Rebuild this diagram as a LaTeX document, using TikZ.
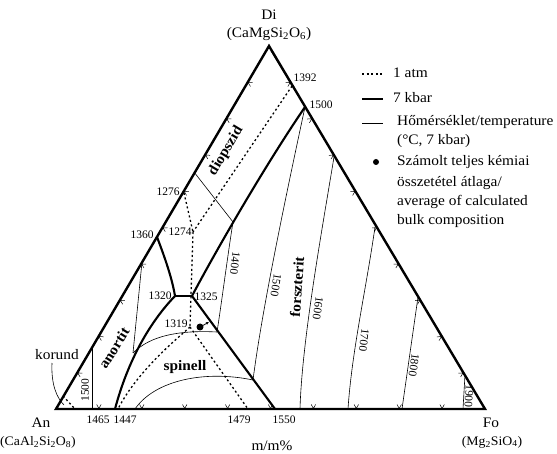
\documentclass[tikz,border=0pt]{standalone}
\usepackage{fontspec}
\setmainfont{Liberation Serif}[FakeStretch=1.06]
\newfontfamily\numfont{Liberation Serif}
\usetikzlibrary{decorations.markings,arrows.meta}
\tikzset{
 edge/.style={line width=2.4pt, line join=miter},
 kbar/.style={line width=2.1pt, line join=round, line cap=round},
 atm/.style={line width=1.3pt, dash pattern=on 2pt off 2.6pt},
 iso/.style={line width=0.6pt},
 tickset/.style={postaction={decorate,decoration={markings,
   mark=between positions 0.1 and 0.95 step 0.1 with {\draw[line width=0.5pt,solid] (-2.2pt,4.5pt) -- (0pt,0.5pt) -- (2.2pt,4.5pt);}}}},
 num/.style={font=\numfont\fontsize{11.5}{13}\selectfont, inner sep=0pt},
 lbl/.style={font=\fontsize{14.5}{17}\selectfont, inner sep=0pt},
 frm/.style={font=\fontsize{13}{15}\selectfont, inner sep=0pt},
 fld/.style={font=\bfseries\fontsize{14.5}{16}\selectfont, inner sep=0pt},
}
\begin{document}
\begin{tikzpicture}[x=1pt,y=-1pt]
\useasboundingbox (0,0) rectangle (557,454);
% vertices
\coordinate (An) at (56,409);
\coordinate (Fo) at (485,409);
\coordinate (Di) at (269,46);
% invariant points
\coordinate (p1392) at (292,86);
\coordinate (p1500) at (305,107);
\coordinate (p1276) at (184,193);
\coordinate (p1360) at (157,237);
\coordinate (p1274) at (193,232);
\coordinate (p1320) at (175,296);
\coordinate (p1325) at (192,296);
\coordinate (p1319) at (190,327);
\coordinate (p1447) at (115,409);
\coordinate (q1447) at (118,409);
\coordinate (p1479) at (248,409);
\coordinate (p1550) at (275,409);
% isotherm points
\coordinate (ia) at (271,51);
\coordinate (ib) at (291,84);
\coordinate (i14a) at (142,262);
\coordinate (i14b) at (133,353);
\coordinate (i14c) at (217,332);
\coordinate (i14d) at (233,222);
\coordinate (i14e) at (194,172);
\coordinate (i15a) at (92,347);
\coordinate (i15b) at (92,409);
\coordinate (i15c) at (135,409);
\coordinate (i15d) at (253,380);
\coordinate (i16a) at (334,157);
\coordinate (i16b) at (300,409);
\coordinate (i17a) at (375,227);
\coordinate (i17b) at (348,409);
\coordinate (i18a) at (418,297);
\coordinate (i18b) at (402,409);
\coordinate (i19a) at (465,375);
\coordinate (i19b) at (463,409);
\coordinate (ka) at (52,363);
\coordinate (kb) at (64,405);
\coordinate (kc) at (63,396);
\coordinate (kd) at (75,409);

% isotherms (thin)
\draw[iso] (ia) -- (ib);
\draw[iso] (i14a) -- (i14b);
\draw[iso] (i14b) .. controls (150,336) and (178,330) .. (i14c);
\draw[iso] (i14c) .. controls (222,300) and (227,260) .. (i14d);
\draw[iso] (i14d) -- (i14e);
\draw[iso] (i15a) -- (i15b);
\draw[iso] (i15c) .. controls (155,380) and (205,370) .. (i15d);
\draw[iso] (i15d) .. controls (262,310) and (285,200) .. (p1500);
\draw[iso] (i16a) .. controls (322,230) and (302,340) .. (i16b);
\draw[iso] (i17a) .. controls (366,290) and (352,350) .. (i17b);
\draw[iso] (i18a) -- (i18b);
\draw[iso] (i19a) -- (i19b);
\draw[iso] (ka) .. controls (51,385) and (57,398) .. (kb);

% 1 atm boundaries (dotted)
\draw[atm] (p1392) -- (p1274);
\draw[atm] (p1276) -- (p1274);
\draw[atm] (p1274) -- (p1319);
\draw[atm] (p1319) -- (p1479);
\draw[atm] (p1319) .. controls (178,338) and (138,370) .. (q1447);
\draw[atm] (kc) -- (kd);

% 7 kbar boundaries (thick)
\draw[kbar] (p1360) .. controls (165,258) and (172,278) .. (p1320);
\draw[kbar] (p1320) -- (p1325);
\draw[kbar] (p1320) .. controls (150,322) and (128,360) .. (p1447);
\draw[kbar] (p1325) .. controls (212,258) and (262,170) .. (p1500);
\draw[kbar] (p1325) -- (p1550);

% triangle
\draw[edge] (An) -- (Fo) -- (Di) -- cycle;
\path[tickset] (An) -- (Fo);
\path[tickset] (Fo) -- (Di);
\path[tickset] (Di) -- (An);

% bulk composition
\fill (200,327) circle (3.5pt) coordinate (bulk);
\coordinate (bulkend) at (209,322);
\draw[line width=0.8pt,-{Latex[length=3pt,width=3pt]}] (bulk) ++(2,-1) -- (bulkend);

% corner labels
\node[lbl] (diname) at (269,15) {Di};
\node[lbl] (diform) at (269,34) {(CaMgSi\textsubscript{2}O\textsubscript{6})};
\node[lbl] (anname) at (41,423) {An};
\node[frm] (anform) at (38,442) {(CaAl\textsubscript{2}Si\textsubscript{2}O\textsubscript{8})};
\node[lbl] (foname) at (491,423) {Fo};
\node[frm] (foform) at (492,442) {(Mg\textsubscript{2}SiO\textsubscript{4})};
\node[lbl] (unit) at (272,446) {m/m\%};
\node[lbl] (korund) at (57,355) {korund};

% field labels
\node[fld,rotate=59] (fdi) at (226,151) {diopszid};
\node[fld,rotate=58] (fan) at (114,348) {anortit};
\node[fld,rotate=86] (ffo) at (297,287) {forszterit};
\node[fld] (fsp) at (185,367) {spinell};

% invariant point labels
\node[num] (l1392) at (305,78) {1392};
\node[num] (l1500) at (321,105) {1500};
\node[num] (l1276) at (168,192) {1276};
\node[num] (l1360) at (142,235) {1360};
\node[num] (l1274) at (180,232) {1274};
\node[num] (l1320) at (160,296) {1320};
\node[num] (l1325) at (206,297) {1325};
\node[num] (l1319) at (176,324) {1319};
\node[num] (l1465) at (98,420) {1465};
\node[num] (l1447) at (125,420) {1447};
\node[num] (l1479) at (239,420) {1479};
\node[num] (l1550) at (284,420) {1550};

% isotherm labels
\node[num,rotate=90] (t1500a) at (85,390) {1500};
\node[num,rotate=-97] (t1400) at (235,263) {1400};
\node[num,rotate=-99] (t1500) at (276,285) {1500};
\node[num,rotate=-98] (t1600) at (318,308) {1600};
\node[num,rotate=-97] (t1700) at (364,340) {1700};
\node[num,rotate=-98] (t1800) at (414,365) {1800};
\node[num,rotate=-93] (t1900) at (469,396) {1900};

% legend
\coordinate (la1) at (362,74); \coordinate (lb1) at (383,74);
\coordinate (la2) at (362,99); \coordinate (lb2) at (383,99);
\coordinate (la3) at (362,123); \coordinate (lb3) at (383,123);
\draw[atm] (la1) -- (lb1);
\draw[kbar,line cap=butt] (la2) -- (lb2);
\draw[iso] (la3) -- (lb3);
\fill (376,162) circle (3pt) coordinate (ldot);
\node[lbl,anchor=west] (g1) at (393,73) {1 atm};
\node[lbl,anchor=west] (g2) at (393,98) {7 kbar};
\node[lbl,anchor=west] (g3) at (397,122) {Hőmérséklet/temperature};
\node[lbl,anchor=west] (g4) at (397,141) {(°C, 7 kbar)};
\node[lbl,anchor=west] (g5) at (397,162) {Számolt teljes kémiai};
\node[lbl,anchor=west] (g6) at (397,183) {összetétel átlaga/};
\node[lbl,anchor=west] (g7) at (397,202) {average of calculated};
\node[lbl,anchor=west] (g8) at (397,221) {bulk composition};
\end{tikzpicture}
\end{document}
